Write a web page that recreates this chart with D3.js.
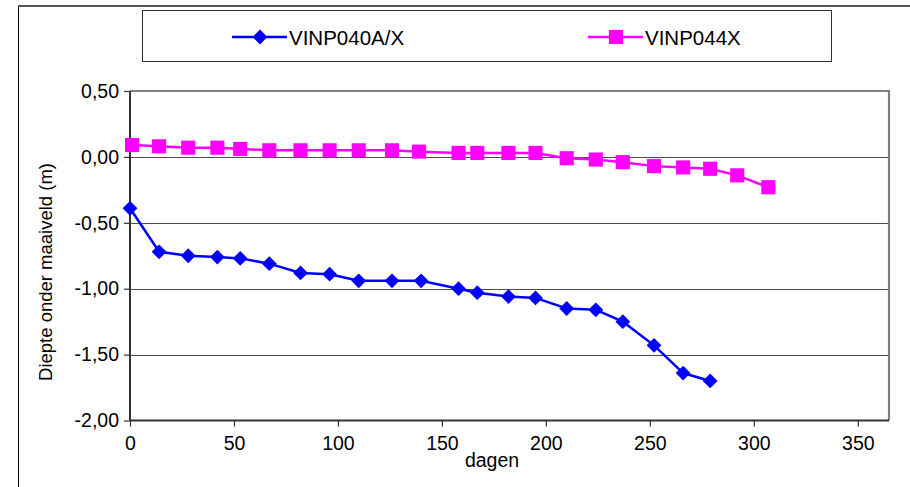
<!DOCTYPE html>
<html>
<head>
<meta charset="utf-8">
<script src="https://cdn.jsdelivr.net/npm/d3@7"></script>
<style>
  body { margin: 0; background: #fff; }
  svg { display: block; font-family: Arial, "Liberation Sans", sans-serif; }
</style>
</head>
<body>
<svg id="chart" width="910" height="487"></svg>
<script>
// days since start
const daysA = [0, 14, 28, 42, 53, 67, 82, 96, 110, 126, 140, 158, 167, 182, 195, 210, 224, 237, 252, 266, 279];
const valuesA = [-0.39, -0.72, -0.75, -0.76, -0.77, -0.81, -0.88, -0.89, -0.94, -0.94, -0.94, -1.00, -1.03, -1.06, -1.07, -1.15, -1.16, -1.25, -1.43, -1.64, -1.70];

const daysB = [1, 14, 28, 42, 53, 67, 82, 96, 110, 126, 139, 158, 167, 182, 195, 210, 224, 237, 252, 266, 279, 292, 307];
const valuesB = [0.09, 0.08, 0.07, 0.07, 0.06, 0.05, 0.05, 0.05, 0.05, 0.05, 0.04, 0.03, 0.03, 0.03, 0.03, -0.01, -0.02, -0.04, -0.07, -0.08, -0.09, -0.14, -0.23];

const seriesNames = ["VINP040A/X", "VINP044X"];
const seriesColors = ["#0000FF", "#FF00FF"];

const xTicks = [0, 50, 100, 150, 200, 250, 300, 350];
const yTicks = [-2, -1.5, -1, -0.5, 0, 0.5];

const xTitle = "dagen";
const yTitle = "Diepte onder maaiveld (m)";

const width = 910, height = 487;
const plot = { left: 130, right: 889, top: 91, bottom: 420.5 };

const svg = d3.select("#chart");

// nl style numbers: comma decimal, plain hyphen
const nl = d3.formatLocale({ decimal: ",", thousands: ".", grouping: [3], currency: ["", " €"], minus: "-" });
const fmt = nl.format(".2f");

const x = d3.scaleLinear().domain([0, 365]).range([plot.left, plot.right]);
const y = d3.scaleLinear().domain([-2, 0.5]).range([plot.bottom, plot.top]);

// outer chart frame
svg.append("line").attr("x1", 18.5).attr("x2", 18.5).attr("y1", 6).attr("y2", height)
  .attr("stroke", "#000").attr("stroke-width", 1);
svg.append("line").attr("x1", 18).attr("x2", width).attr("y1", 6).attr("y2", 6)
  .attr("stroke", "#555").attr("stroke-width", 2);

// gridlines
svg.append("g")
  .selectAll("line")
  .data(yTicks.filter(d => d > -2 && d < 0.5))
  .join("line")
  .attr("x1", plot.left).attr("x2", plot.right)
  .attr("y1", d => Math.round(y(d)) + 0.5).attr("y2", d => Math.round(y(d)) + 0.5)
  .attr("stroke", "#4d4d4d").attr("stroke-width", 1.2);

// top / right border of plot area
svg.append("path")
  .attr("d", `M${plot.left},${plot.top} H${plot.right} V${plot.bottom}`)
  .attr("fill", "none").attr("stroke", "#808080").attr("stroke-width", 2.2);

// axes
const xAxis = d3.axisBottom(x).tickValues(xTicks).tickSize(6).tickPadding(10).tickFormat(d3.format("d"));
const yAxis = d3.axisLeft(y).tickValues(yTicks).tickSize(6).tickPadding(5).tickFormat(fmt);

const gx = svg.append("g").attr("transform", `translate(0,${plot.bottom})`).call(xAxis);
const gy = svg.append("g").attr("transform", `translate(${plot.left},0)`).call(yAxis);

[gx, gy].forEach(g => {
  g.select(".domain").attr("stroke", "#333").attr("stroke-width", 2);
  g.selectAll(".tick line").attr("stroke", "#333").attr("stroke-width", 1.2);
  g.selectAll(".tick text").attr("fill", "#000").attr("font-size", 19.5)
    .attr("font-family", "Arial, 'Liberation Sans', sans-serif");
});
gx.select(".domain").attr("d", `M${plot.left},0H${plot.right}`);
gy.select(".domain").attr("d", `M0,${plot.bottom}V${plot.top}`);

// axis titles
svg.append("text")
  .attr("x", 492).attr("y", 467)
  .attr("text-anchor", "middle").attr("font-size", 19.5)
  .text(xTitle);

svg.append("text")
  .attr("transform", "translate(52,272) rotate(-90)")
  .attr("text-anchor", "middle").attr("font-size", 18.5)
  .text(yTitle);

// series
const line = d3.line().x(d => x(d[0])).y(d => y(d[1]));
const dataA = daysA.map((d, i) => [d, valuesA[i]]);
const dataB = daysB.map((d, i) => [d, valuesB[i]]);

const diamond = d3.symbol().type(d3.symbolDiamond2).size(140);
const square = d3.symbol().type(d3.symbolSquare).size(200);

function drawSeries(data, color, sym) {
  svg.append("path").datum(data)
    .attr("d", line)
    .attr("fill", "none").attr("stroke", color).attr("stroke-width", 2.5);
  svg.append("g").selectAll("path")
    .data(data)
    .join("path")
    .attr("transform", d => `translate(${x(d[0])},${y(d[1])})`)
    .attr("d", sym)
    .attr("fill", color);
}

drawSeries(dataB, seriesColors[1], square);
drawSeries(dataA, seriesColors[0], diamond);

// legend
const legend = svg.append("g");
legend.append("rect")
  .attr("x", 142.5).attr("y", 10.5).attr("width", 689).attr("height", 51)
  .attr("fill", "#fff").attr("stroke", "#333").attr("stroke-width", 1);

const legendX = [232, 588];
const legendSym = [diamond, square];
seriesNames.forEach((name, i) => {
  const lg = legend.append("g").attr("transform", `translate(${legendX[i]},37)`);
  lg.append("line").attr("x1", 0).attr("x2", 55)
    .attr("stroke", seriesColors[i]).attr("stroke-width", 2.5);
  lg.append("path").attr("d", legendSym[i]).attr("transform", "translate(28,0)")
    .attr("fill", seriesColors[i]);
  lg.append("text").attr("x", 57).attr("y", 7.5).attr("font-size", 20.5).text(name);
});
</script>
</body>
</html>
